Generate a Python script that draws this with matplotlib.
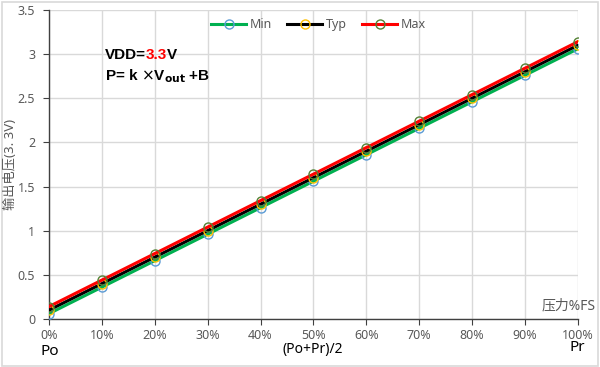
import matplotlib
matplotlib.use("Agg")
import matplotlib.pyplot as plt

plt.rcParams['font.family'] = ['Noto Sans', 'Noto Sans CJK SC', 'DejaVu Sans']

# data
x_pct = [0, 10, 20, 30, 40, 50, 60, 70, 80, 90, 100]
x_labels = ["0%", "10%", "20%", "30%", "40%", "50%", "60%", "70%", "80%", "90%", "100%"]
v_min = [0.06, 0.36, 0.66, 0.96, 1.26, 1.56, 1.86, 2.16, 2.46, 2.76, 3.06]
v_typ = [0.10, 0.40, 0.70, 1.00, 1.30, 1.60, 1.90, 2.20, 2.50, 2.80, 3.10]
v_max = [0.14, 0.44, 0.74, 1.04, 1.34, 1.64, 1.94, 2.24, 2.54, 2.84, 3.14]
y_ticks = [0, 0.5, 1, 1.5, 2, 2.5, 3, 3.5]
y_labels = ["0", "0.5", "1", "1.5", "2", "2.5", "3", "3.5"]

fig = plt.figure(figsize=(6, 3.67), dpi=100)
ax = fig.add_axes([0.0817, 0.131, 0.8813, 0.8418])

# outer chart border
fig.patches.append(plt.Rectangle((0.003, 0.004), 0.993, 0.991, transform=fig.transFigure,
                                 fill=False, edgecolor="#d9d9d9", linewidth=1.2))

ax.plot(x_pct, v_min, color="#00b050", lw=2.2, marker="o", ms=6.5, mfc="none",
        mec="#5b9bd5", mew=1, label="Min", zorder=3)
ax.plot(x_pct, v_typ, color="black", lw=2.2, marker="o", ms=6.5, mfc="none",
        mec="#ffc000", mew=1, label="Typ", zorder=4)
ax.plot(x_pct, v_max, color="#ff0000", lw=2.2, marker="o", ms=6.5, mfc="none",
        mec="#548235", mew=1, label="Max", zorder=5)

ax.set_xlim(0, 100)
ax.set_ylim(0, 3.5)
ax.set_xticks(x_pct)
ax.set_xticklabels(x_labels)
ax.set_yticks(y_ticks)
ax.set_yticklabels(y_labels)
ax.grid(True, color="#d9d9d9", linewidth=1)
ax.set_axisbelow(True)
for s in ["top", "right"]:
    ax.spines[s].set_visible(False)
for s in ["left", "bottom"]:
    ax.spines[s].set_color("#404040")
    ax.spines[s].set_linewidth(1)
ax.tick_params(axis="both", colors="#404040", labelcolor="#595959", labelsize=9, length=4)
ax.tick_params(axis="x", pad=3)
ax.tick_params(axis="y", pad=6)

fig.text(0.018, 0.553, "输出电压(3. 3V)", color="#595959", fontsize=9.5,
         rotation=90, ha="center", va="center")

leg = ax.legend(loc="upper center", bbox_to_anchor=(0.51, 1.01), ncol=3, frameon=False,
                fontsize=9, handlelength=2.8, columnspacing=1.2, handletextpad=0.3)
for t in leg.get_texts():
    t.set_color("#595959")

bold = dict(fontsize=11, fontweight="bold", va="center", family="Liberation Sans")
t1 = ax.text(10.5, 2.99, "VDD=", **bold)
t2 = ax.annotate("3.3", xy=(1, 0.5), xycoords=t1, ha="left", color="#ff0000", **bold)
ax.annotate("V", xy=(1, 0.5), xycoords=t2, ha="left", **bold)
ax.text(10.5, 2.75, r"P= k $\times$V$_{\mathbf{out}}$ +B", **bold)

ax.text(93.2, 0.15, "压力%FS", fontsize=10, color="#595959", ha="left", va="center")

fig.text(0.083, 0.041, "Po", fontsize=11, color="black", ha="center", va="center")
fig.text(0.522, 0.049, "(Po+Pr)/2", fontsize=10, color="black", ha="center", va="center")
fig.text(0.962, 0.052, "Pr", fontsize=11, color="black", ha="center", va="center")

fig.savefig("out.png", dpi=100)
